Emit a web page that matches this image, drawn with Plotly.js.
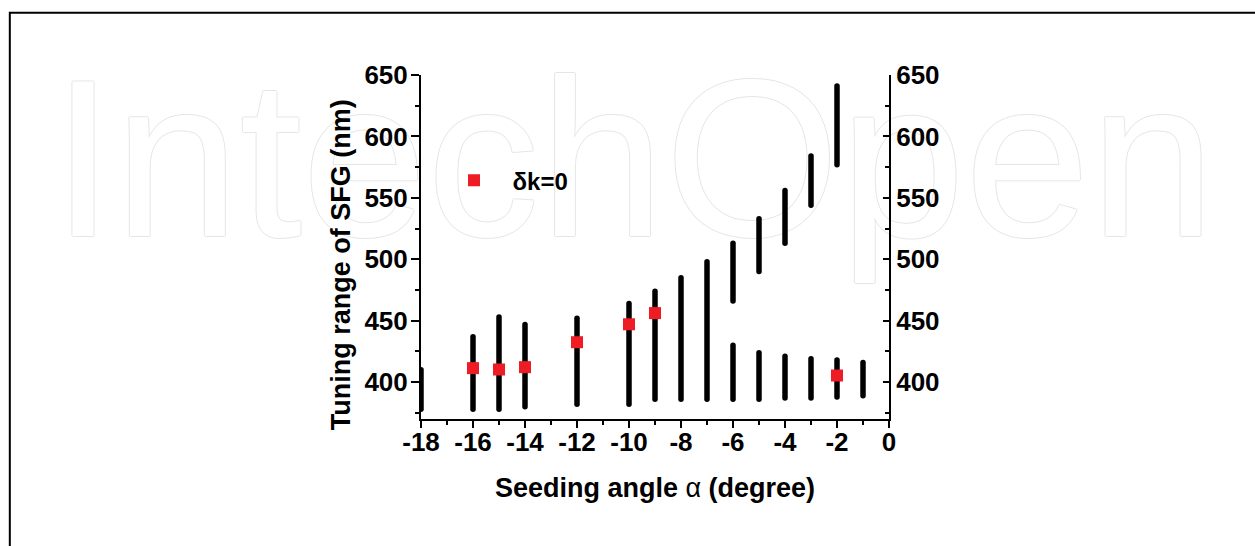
<!DOCTYPE html>
<html>
<head>
<meta charset="utf-8">
<script src="https://cdn.plot.ly/plotly-3.0.1.min.js"></script>
<style>
  html, body { margin: 0; padding: 0; background: #ffffff; }
  #chart { width: 1255px; height: 546px; }
  path.js-line { stroke-linecap: round; }
</style>
</head>
<body>
<div id="chart"></div>
<script>
// Seeding angle (degree) of each tuning-range bar
const barAngle = [-18, -16, -15, -14, -12, -10, -9, -8, -7, -6, -6, -5, -5, -4, -4, -3, -3, -2, -2, -1];
// Lower and upper ends of each tuning range (nm)
const barLow  = [378, 378, 378, 380, 382, 382, 386, 386, 386, 386, 466, 386, 490, 387, 513, 387, 544, 388, 577, 389];
const barHigh = [410, 437, 453, 447, 452, 464, 474, 485, 498, 430, 513, 424, 533, 421, 556, 419, 584, 418, 641, 416];

// Phase-matched points (delta k = 0)
const pmAngle = [-16, -15, -14, -12, -10, -9, -2];
const pmWave  = [411.4, 410.3, 412.2, 432.5, 447.1, 456.2, 405.4];

const xTickVals = [-18, -16, -14, -12, -10, -8, -6, -4, -2, 0];
const xTickText = ['-18', '-16', '-14', '-12', '-10', '-8', '-6', '-4', '-2', '0'];
const yTickVals = [400, 450, 500, 550, 600, 650];
const yTickText = ['400', '450', '500', '550', '600', '650'];

// Publisher watermark text
const watermarkText = ['IntechOpen'];
const watermarkAt = { x: [-9.83], y: [565] };

// Build segment lists (null-separated) from the arrays
const segX = [], segY = [];
barAngle.forEach((a, i) => {
  segX.push(a, a, null);
  segY.push(barLow[i], barHigh[i], null);
});

const FONT = 'Arial, "Liberation Sans", sans-serif';
const tickFont = { family: FONT, size: 26, color: '#000000', weight: 'bold' };

const traces = [
  {
    type: 'scatter', mode: 'text', x: watermarkAt.x, y: watermarkAt.y, text: watermarkText,
    textposition: 'middle center', cliponaxis: false, showlegend: false, hoverinfo: 'skip',
    textfont: { family: '"Liberation Sans", Arial, sans-serif', size: 225, color: '#ffffff',
                shadow: '1px 0 0 #e6e6e6, -1px 0 0 #e6e6e6, 0 1px 0 #e6e6e6, 0 -1px 0 #e6e6e6' }
  },
  {
    type: 'scatter', mode: 'lines', x: segX, y: segY,
    line: { color: '#000000', width: 5.5 },
    connectgaps: false, showlegend: false, hoverinfo: 'skip'
  },
  {
    type: 'scatter', mode: 'markers', x: pmAngle, y: pmWave,
    name: 'δk=0',
    marker: { symbol: 'square', size: 12, color: '#ee1c24' }
  },
  {
    type: 'scatter', mode: 'markers', x: [null], y: [null], yaxis: 'y2',
    showlegend: false, hoverinfo: 'skip'
  }
];

const layout = {
  width: 1255, height: 546,
  paper_bgcolor: '#ffffff', plot_bgcolor: 'rgba(0,0,0,0)',
  margin: { l: 421, r: 366, t: 75, b: 127, pad: 0 },
  font: { family: FONT, color: '#000000' },
  showlegend: true,
  legend: {
    x: 0.031, xanchor: 'left', y: 0.693, yanchor: 'middle',
    bgcolor: 'rgba(0,0,0,0)', borderwidth: 0, itemwidth: 67,
    font: { family: FONT, size: 24, color: '#000000', weight: 'bold' }
  },
  xaxis: {
    range: [-18, 0], tickvals: xTickVals, ticktext: xTickText,
    ticks: 'outside', ticklen: 7, tickwidth: 2, tickcolor: '#000000', ticklabelstandoff: -8,
    minor: { dtick: 1, tick0: 0, ticks: 'outside', ticklen: 4, tickwidth: 2, tickcolor: '#000000', showgrid: false },
    showline: true, linewidth: 2, linecolor: '#000000',
    showgrid: false, zeroline: false, tickfont: tickFont,
    title: { text: 'Seeding angle <span style="font-weight:normal">α</span> (degree)', font: { family: FONT, size: 27, color: '#000000', weight: 'bold' }, standoff: 22 }
  },
  yaxis: {
    range: [370, 650], tickvals: yTickVals, ticktext: yTickText,
    ticks: 'outside', ticklen: 8, tickwidth: 2, tickcolor: '#000000', ticklabelstandoff: -2,
    minor: { dtick: 25, tick0: 0, ticks: 'outside', ticklen: 4, tickwidth: 2, tickcolor: '#000000', showgrid: false },
    showline: true, linewidth: 2, linecolor: '#000000',
    showgrid: false, zeroline: false, tickfont: tickFont
  },
  yaxis2: {
    overlaying: 'y', side: 'right', anchor: 'x',
    range: [370, 650], tickvals: yTickVals, ticktext: yTickText,
    ticks: 'inside', ticklen: 6, tickwidth: 2, tickcolor: '#000000',
    minor: { dtick: 25, tick0: 0, ticks: 'inside', ticklen: 4, tickwidth: 2, tickcolor: '#000000', showgrid: false },
    showline: true, linewidth: 2, linecolor: '#000000',
    showgrid: false, zeroline: false, tickfont: tickFont
  },
  annotations: [
    {
      text: 'Tuning range of SFG (nm)', xref: 'paper', yref: 'paper',
      x: -0.172, y: 0.4485, xanchor: 'center', yanchor: 'middle', showarrow: false,
      textangle: -90,
      font: { family: FONT, size: 27, color: '#000000', weight: 'bold' }
    }
  ],
  shapes: [
    {
      type: 'rect', xref: 'paper', yref: 'paper',
      x0: -0.8786, x1: 2.0, y0: -1.0, y1: 1.1811,
      line: { color: '#000000', width: 2 }, fillcolor: 'rgba(0,0,0,0)', layer: 'below'
    }
  ]
};

Plotly.newPlot('chart', traces, layout, { staticPlot: true, displayModeBar: false });
</script>
</body>
</html>
